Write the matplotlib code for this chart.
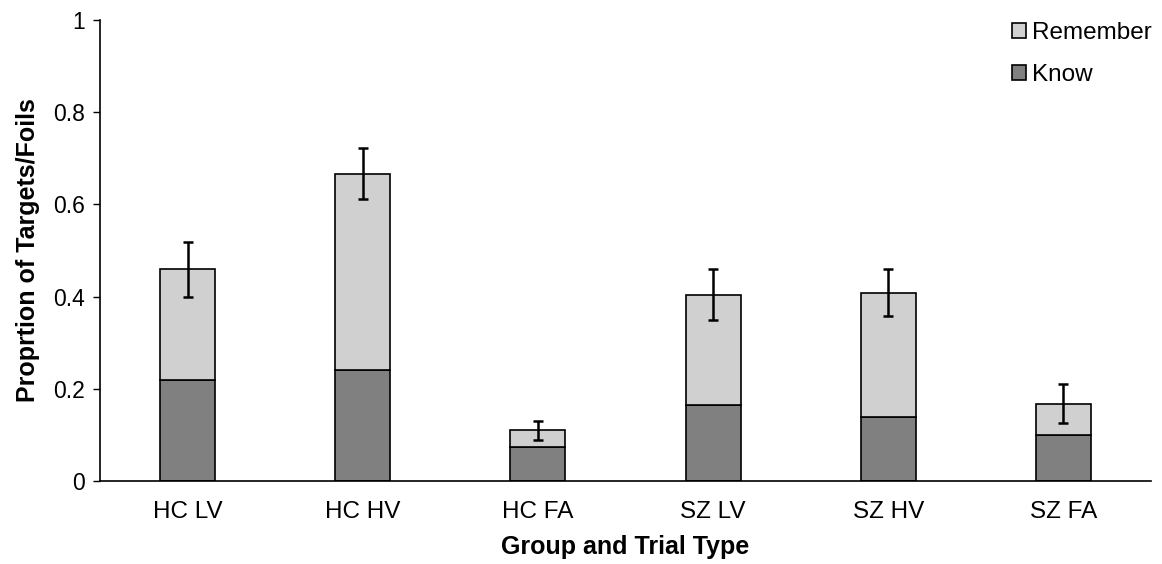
import numpy as np
import matplotlib
matplotlib.use("Agg")
import matplotlib.pyplot as plt

plt.rcParams['font.family'] = ['Liberation Sans', 'DejaVu Sans']

# values
categories = ['HC LV', 'HC HV', 'HC FA', 'SZ LV', 'SZ HV', 'SZ FA']
know = [0.219, 0.241, 0.074, 0.165, 0.139, 0.099]
total = [0.459, 0.667, 0.110, 0.404, 0.409, 0.168]
err = [0.060, 0.055, 0.021, 0.055, 0.050, 0.043]
remember = [t - k for t, k in zip(total, know)]

fig = plt.figure(figsize=(11.62, 5.64), dpi=100)
ax = fig.add_axes([0.086, 0.147, 0.9045, 0.8175])

x = np.arange(len(categories))
w = 0.314
ax.bar(x, know, w, color='#808080', edgecolor='black', linewidth=1.2, label='Know')
ax.bar(x, remember, w, bottom=know, color='#d0d0d0', edgecolor='black', linewidth=1.2,
       label='Remember')
ax.errorbar(x, total, yerr=err, fmt='none', ecolor='black', elinewidth=1.8,
            capsize=3.8, capthick=1.8)

ax.set_xlim(-0.5, len(categories) - 0.5)
ax.set_ylim(0, 1)
ax.set_yticks([0, 0.2, 0.4, 0.6, 0.8, 1])
ax.set_yticklabels(['0', '0.2', '0.4', '0.6', '0.8', '1'])
ax.set_xticks(x)
ax.set_xticklabels(categories)
ax.tick_params(axis='y', direction='out', length=5, width=1, labelsize=16.5, pad=6)
ax.tick_params(axis='x', length=0, labelsize=17.5, pad=14)
for s in ['top', 'right']:
    ax.spines[s].set_visible(False)
ax.spines['left'].set_linewidth(1.2)
ax.spines['bottom'].set_linewidth(1.2)

ax.set_xlabel('Group and Trial Type', fontsize=18, fontweight='bold', labelpad=9)
ax.set_ylabel('Proprtion of Targets/Foils', fontsize=18, fontweight='bold', labelpad=9)

h, l = ax.get_legend_handles_labels()
ax.legend(h[::-1], l[::-1], loc='upper right', bbox_to_anchor=(1.001, 0.995), frameon=False,
          fontsize=17.5, handlelength=0.58, handleheight=0.58, handletextpad=0.25,
          labelspacing=0.8, borderpad=0, borderaxespad=0)

fig.savefig('out.png', dpi=100)
